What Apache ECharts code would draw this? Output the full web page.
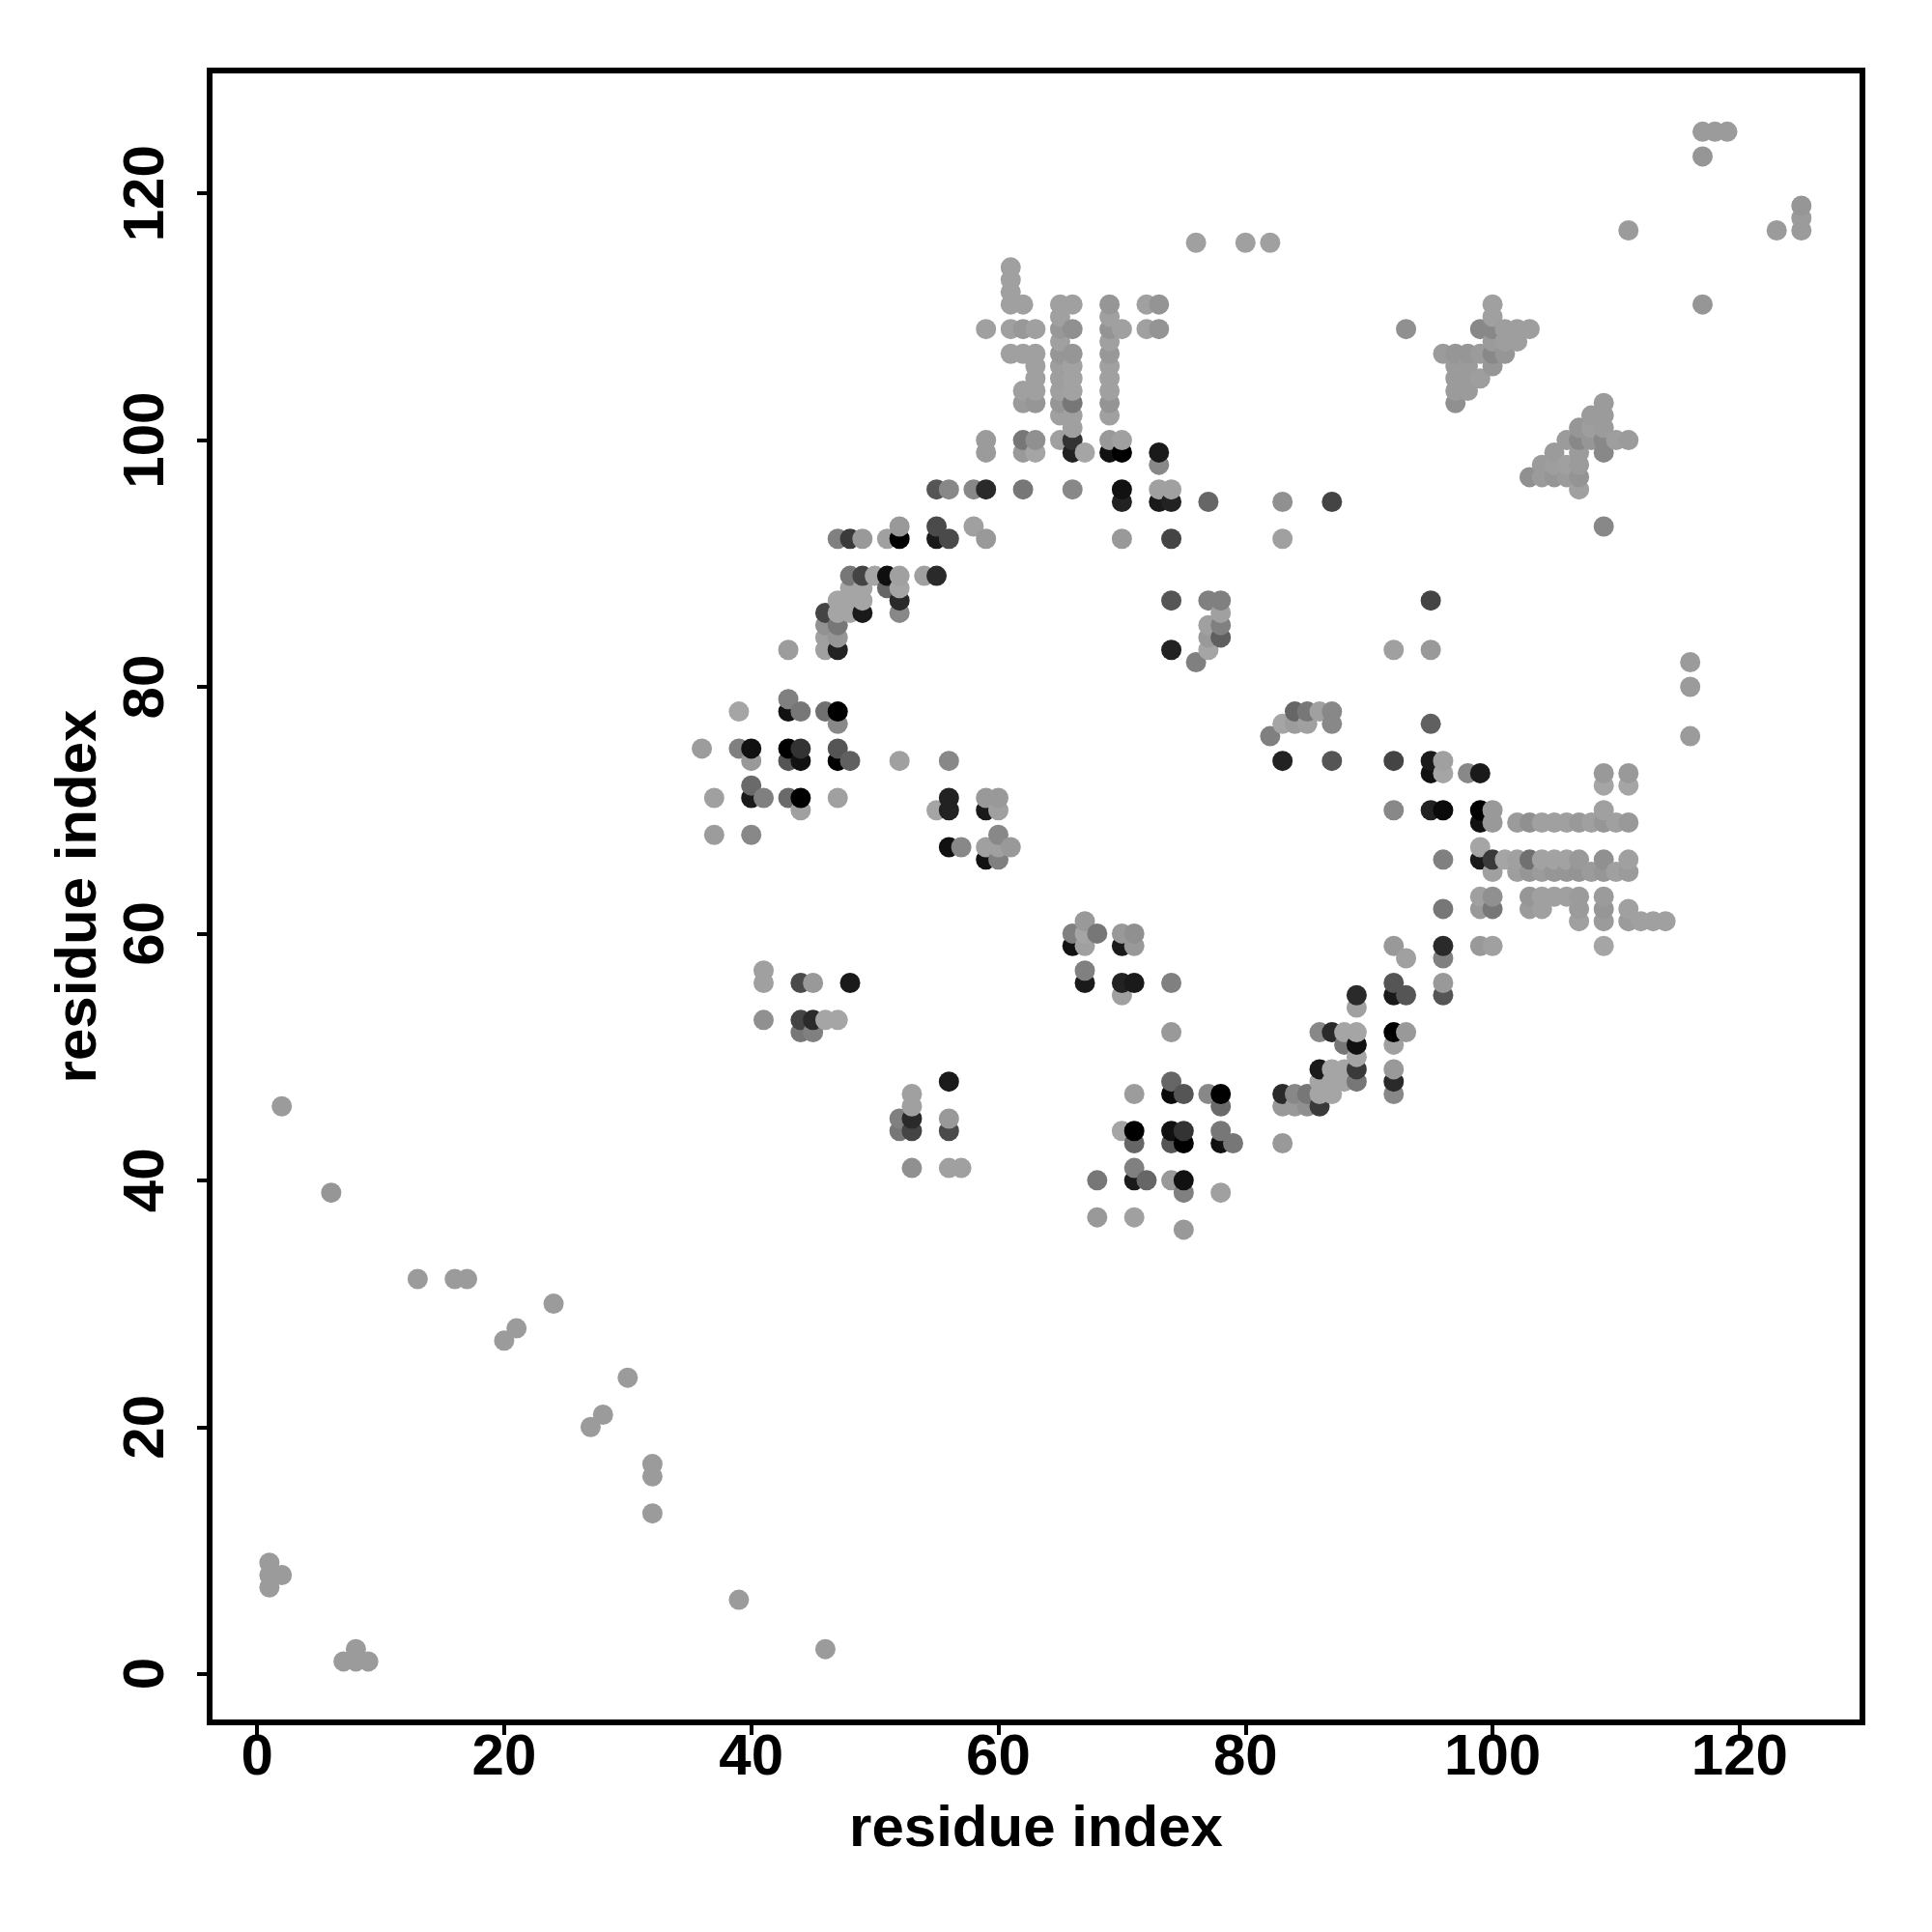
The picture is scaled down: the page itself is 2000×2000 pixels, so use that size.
<!DOCTYPE html>
<html><head><meta charset="utf-8">
<style>html,body{margin:0;padding:0;background:#fff}#c{width:2000px;height:2000px}</style>
<script src="https://cdn.jsdelivr.net/npm/echarts@6/dist/echarts.min.js"></script>
</head><body><div id="c"></div>
<script>
// each contact: [residue x, residue y, grey level]
const lowerLeft = [[1,7,155],[1,8,155],[1,9,155],[2,8,155],[2,46,155],[6,39,150],[7,1,155],[8,1,155],[8,2,155],[9,1,155],
 [13,32,155],[16,32,155],[17,32,155],[20,27,155],[21,28,155],[24,30,155],[27,20,155],[28,21,155],[30,24,155],
 [32,13,155],[32,16,155],[32,17,155],[39,6,155],[46,2,155]];
const blockA = [[36,75,156],[37,68,156],[37,71,160],[39,75,128],[39,78,165],[40,68,136],[40,71,26],[40,72,106],[40,74,153],[40,75,17],
 [41,71,128],[43,71,106],[43,74,85],[43,75,0],[43,78,17],[43,79,128],[43,83,156],[44,70,160],[44,71,0],[44,74,17],[44,75,51],[44,78,119],
 [46,78,112],[47,71,160],[47,74,0],[47,75,85],[47,77,136],[47,78,0],[48,74,96],[52,74,160],[56,74,136],
 [55,70,165],[56,70,34],[56,71,34],[56,67,17],[57,67,136],[59,66,17],[59,67,160],[59,70,26],[59,71,153],[60,66,128],[60,67,160],[60,68,136],[60,70,160],[60,71,153],[61,67,153]];
const arc = [[46,83,160],[46,84,160],[46,85,145],[46,86,68],[47,83,34],[47,84,150],[47,85,119],[47,86,165],[47,87,165],[47,92,128],
 [48,86,165],[48,87,165],[48,88,165],[48,89,119],[48,92,58],[49,86,26],[49,87,165],[49,88,165],[49,89,68],[49,92,153],
 [50,89,165],[51,88,102],[51,89,15],[51,92,160],[52,86,136],[52,87,42],[52,88,165],[52,89,160],[52,92,0],[52,93,153],
 [54,89,160],[55,89,42],[55,92,26],[55,93,74],[55,96,85],[56,92,74],[56,96,136],[58,93,160],[58,96,136],[59,92,153],[59,96,42],
 [59,99,155],[59,100,155],[62,96,119],[62,99,153],[62,100,119],[63,99,165],[63,100,144],[65,100,160],[66,96,136],[66,99,34],[66,100,51],[67,99,165],
 [69,99,17],[69,100,153],[70,92,153],[70,95,34],[70,96,17],[70,99,0],[70,100,160],[73,95,26],[73,96,160],[73,98,136],[73,99,26],[74,92,68],[74,95,34],[74,96,160],[77,95,102]];
const tower = [[59,109,160],[61,107,160],[61,109,160],[61,111,160],[61,112,160],[61,113,160],[61,114,160],[62,103,155],[62,104,160],[62,107,160],[62,109,152],[62,111,160],
 [63,103,150],[63,104,160],[63,105,160],[63,106,160],[63,107,160],[63,109,160],
 [65,102,160],[65,103,150],[65,104,160],[65,105,158],[65,106,158],[65,107,150],[65,108,160],[65,109,152],[65,110,160],[65,111,160],
 [66,101,160],[66,102,160],[66,103,119],[66,104,162],[66,105,162],[66,106,162],[66,107,150],[66,109,144],[66,111,160],
 [69,102,160],[69,103,148],[69,104,160],[69,105,160],[69,106,160],[69,107,152],[69,108,160],[69,109,148],[69,110,160],[69,111,150],[70,109,160],
 [72,109,160],[72,111,160],[73,109,148],[73,111,148],[76,116,160],[80,116,160],[82,116,160]];
const middle = [[41,53,144],[41,56,160],[41,57,160],[44,52,119],[44,53,68],[44,56,74],[45,52,128],[45,53,42],[45,56,153],[46,53,165],[47,53,165],[48,56,26],
 [52,44,119],[52,45,128],[53,41,144],[53,44,68],[53,45,42],[53,46,160],[53,47,160],[56,41,160],[56,44,74],[56,45,153],[56,48,26],[57,41,160],
 [66,59,17],[66,60,128],[67,56,26],[67,57,128],[67,59,160],[67,60,165],[67,61,153],[68,60,119],[70,55,160],[70,56,34],[70,59,26],[70,60,153],[71,56,26],[71,59,153],[71,60,144],[74,52,153],[74,56,128],
 [68,37,153],[68,40,119],[70,44,165],[71,37,160],[71,40,26],[71,41,128],[71,43,102],[71,44,0],[71,47,156],[72,40,102],
 [74,40,153],[74,43,85],[74,44,17],[74,47,10],[74,48,102],[75,36,153],[75,39,128],[75,40,17],[75,43,0],[75,44,51],[75,47,85],
 [77,47,136],[78,39,160],[78,43,17],[78,44,119],[78,46,106],[78,47,0],[79,43,119],
 [74,83,34],[74,87,85],[76,82,128],[77,83,165],[77,84,153],[77,85,160],[77,87,128],[78,84,95],[78,85,128],[78,86,160],[78,87,128],
 [82,76,128],[83,74,34],[83,77,165],[83,92,160],[83,95,144],[84,77,156],[84,78,102],[85,77,160],[85,78,119],[86,78,160],[87,74,85],[87,77,136],[87,78,136],[87,95,68]];
const lowerRight = [[83,43,153],[83,46,153],[83,47,42],[84,46,153],[84,47,136],[85,46,144],[85,47,119],[86,46,58],[86,47,165],[86,48,165],[86,49,26],[86,52,136],
 [87,47,165],[87,48,165],[87,49,165],[87,52,42],[88,48,165],[88,49,165],[88,51,119],[88,52,165],[89,48,119],[89,49,58],[89,50,165],[89,51,17],[89,52,165],[89,54,160],[89,55,42],
 [92,47,136],[92,48,42],[92,49,153],[92,51,160],[92,52,0],[92,55,26],[92,56,85],[92,59,153],[93,52,153],[93,55,85],[93,58,160],[96,55,85],[96,56,153],[96,58,128],[96,59,42],[96,62,119],[96,66,128],
 [92,70,136],[92,74,68],[92,83,160],[95,70,34],[95,73,17],[95,74,26],[95,77,96],[95,83,153],[95,87,68],[96,70,10],[96,73,165],[96,74,160],[98,73,136],[99,73,26]];
const sheetBlock = [[99,59,153],[99,62,153],[99,63,160],[99,66,26],[99,67,165],[99,69,17],[99,70,0],[100,59,160],[100,62,119],[100,63,144],[100,65,160],[100,66,58],[100,69,153],[100,70,153],
 [101,66,165],[102,65,158],[102,66,160],[102,69,155],[103,62,155],[103,63,150],[103,65,150],[103,66,112],[103,69,144],[104,62,160],[104,63,160],[104,65,155],[104,66,162],[104,69,160],
 [105,63,160],[105,65,150],[105,66,162],[105,69,160],[106,63,160],[106,65,150],[106,66,162],[106,69,160],[107,61,160],[107,62,155],[107,63,155],[107,65,148],[107,66,153],[107,69,153],
 [108,65,155],[108,69,160],[109,59,165],[109,61,155],[109,62,150],[109,63,155],[109,65,150],[109,66,144],[109,69,150],[109,70,160],[109,72,165],[109,73,153],
 [110,65,160],[110,69,160],[111,61,155],[111,62,160],[111,65,155],[111,66,160],[111,69,153],[111,72,165],[111,73,153],[112,61,160],[113,61,160],[114,61,160]];
const upperRight = [[93,109,144],[96,107,155],[97,103,144],[97,104,155],[97,105,155],[97,106,155],[97,107,150],[98,104,155],[98,105,155],[98,106,155],[98,107,150],[99,105,158],[99,107,155],[99,109,136],
 [100,106,150],[100,107,136],[100,108,155],[100,109,136],[100,110,160],[100,111,160],[101,107,150],[101,108,158],[101,109,158],[102,108,158],[102,109,158],[103,109,158],
 [103,97,144],[104,97,155],[104,98,155],[105,97,150],[105,98,158],[105,99,155],[106,97,155],[106,98,160],[106,100,155],[107,96,160],[107,97,148],[107,98,155],[107,99,155],[107,100,136],[107,101,150],
 [108,100,150],[108,101,158],[108,102,155],[109,93,136],[109,99,136],[109,100,136],[109,101,155],[109,102,155],[109,103,155],[110,100,158],[111,100,155],
 [111,117,155],[116,76,155],[116,80,155],[116,82,155],[117,111,150],[117,123,150],[117,125,155],[118,125,155],[119,125,155],[123,117,155],[125,117,155],[125,118,155],[125,119,150]];
const tickValues = [0,20,40,60,80,100,120];
const axisName = "residue index";

const contacts = [...lowerLeft,...blockA,...arc,...tower,...middle,...lowerRight,...sheetBlock,...upperRight]
  .sort((a,b)=>a[0]-b[0]||a[1]-b[1]);

const font = {color:'#000',fontFamily:'"Liberation Sans",Arial,sans-serif',fontWeight:'bold',fontSize:60};
function axis(extra){
  return Object.assign({
    type:'value', name:axisName, nameLocation:'middle',
    nameTextStyle:font, splitLine:{show:false},
    axisLine:{show:false,onZero:false},
    axisTick:{show:true,length:13,customValues:tickValues,lineStyle:{color:'#000',width:4}},
  },extra);
}
const chart = echarts.init(document.getElementById('c'),null,{renderer:'canvas'});
chart.setOption({
  animation:false, backgroundColor:'#fff',
  grid:{left:217,right:72,top:73,bottom:217,show:true,borderColor:'#000',borderWidth:6,backgroundColor:'transparent'},
  xAxis:axis({min:-3.84,max:129.94,nameGap:81,
    axisLabel:Object.assign({},font,{customValues:tickValues,margin:7})}),
  yAxis:axis({min:-3.94,max:129.96,nameGap:105,nameRotate:90,
    axisLabel:Object.assign({},font,{customValues:tickValues,rotate:90,margin:35,align:'center',verticalAlign:'bottom'})}),
  series:[{type:'scatter',symbol:'circle',symbolSize:21,large:false,progressive:0,
    itemStyle:{opacity:1},
    data:contacts.map(p=>({value:[p[0],p[1]],itemStyle:{color:`rgb(${p[2]},${p[2]},${p[2]})`,opacity:1}}))}]
});
</script></body></html>
